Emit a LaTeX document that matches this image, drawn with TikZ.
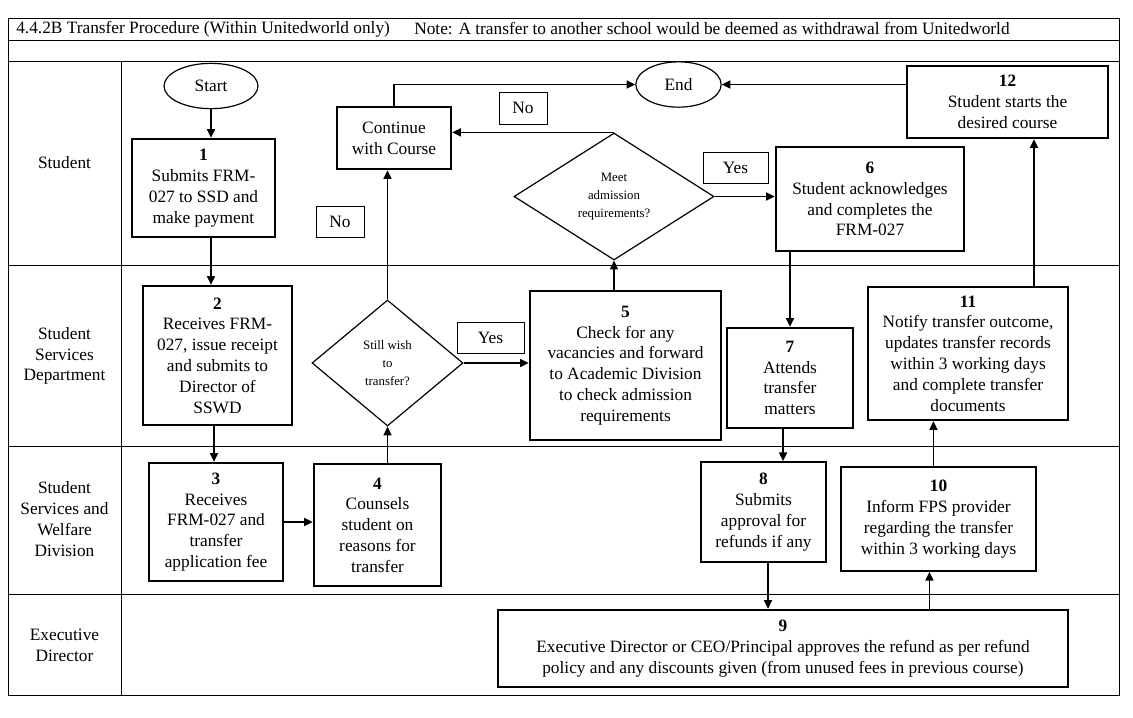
\documentclass[tikz,border=0pt]{standalone}
\usepackage{fontspec}
\setmainfont{Liberation Serif}
\usetikzlibrary{shapes.geometric,arrows.meta,calc}
\newcommand\bodyfont{\fontsize{13}{15.6}\selectfont}
\newcommand\smallfont{\fontsize{9.6}{13.5}\selectfont}
\newcommand\pbox[7]{%
 \pgfmathsetmacro\pcx{(#3+#5)/2}%
 \pgfmathsetmacro\pcy{(#4+#6)/2}%
 \pgfmathsetmacro\pw{(#5-#3)*0.75}%
 \pgfmathsetmacro\ph{(#6-#4)*0.75}%
 \node[#1, minimum width=\pw pt, minimum height=\ph pt] (#2) at (\pcx,\pcy) {#7};}
\tikzset{
 box/.style={draw, line width=1.8pt, align=center, inner sep=0pt, font=\bodyfont},
 mbox/.style={box, line width=1.4pt},
 lbl/.style={draw, line width=0.75pt, align=center, inner sep=0pt, font=\bodyfont},
 term/.style={draw, ellipse, line width=0.9pt, inner sep=0pt, font=\bodyfont},
 dec/.style={draw, diamond, aspect=1.6, line width=0.9pt, inner sep=0pt, align=center, font=\smallfont},
 arr/.style={line width=1.2pt, -{Triangle[length=6.5pt,width=6pt]}},
 lane/.style={line width=0.75pt},
 lanelabel/.style={align=center, font=\bodyfont, inner sep=0pt},
}
\begin{document}
\begin{tikzpicture}[x=0.75pt,y=-0.75pt]
\useasboundingbox (0,0) rectangle (1133,718);
% frame and lanes
\draw[lane] (8,18) rectangle (1119,695);
\draw[lane] (8,40) -- (1119,40);
\draw[lane] (8,61) -- (1119,61);
\draw[lane] (121,61) -- (121,695);
\draw[lane] (8,265) -- (1119,265);
\draw[lane] (8,446) -- (1119,446);
\draw[lane] (8,594) -- (1119,594);
\node[anchor=west, font=\bodyfont, inner sep=0pt] (title) at (16,29) {4.4.2B Transfer Procedure (Within Unitedworld only)};
\node[anchor=west, font=\bodyfont, inner sep=0pt] (note) at (414,29) {Note: A transfer to another school would be deemed as withdrawal from Unitedworld};
% lane labels
\node[lanelabel] (l1) at (64.5,163) {Student};
\node[lanelabel] (l2) at (64.5,356) {Student\\Services\\Department};
\node[lanelabel] (l3) at (64.5,519) {Student\\Services and\\Welfare\\Division};
\node[lanelabel] (l4) at (64.5,645) {Executive\\Director};
% terminals
\node[term, minimum width=70.5pt, minimum height=34pt] (start) at (211,86) {Start};
\node[term, minimum width=64pt, minimum height=34pt] (end) at (678.5,84.5) {End};
% boxes
\pbox{box}{b1}{132}{139}{275}{237}{\textbf{1}\\Submits FRM-\\027 to SSD and\\make payment}
\pbox{box}{b2}{143}{286}{292}{425}{\textbf{2}\\Receives FRM-\\027, issue receipt\\and submits to\\Director of\\SSWD}
\pbox{box}{b3}{149}{463}{283}{581}{\textbf{3}\\Receives\\FRM-027 and\\transfer\\application fee}
\pbox{box}{b4}{314}{464}{441}{586}{\textbf{4}\\Counsels\\student on\\reasons for\\transfer}
\pbox{box}{cont}{337}{107}{451}{169}{Continue\\with Course}
\pbox{lbl}{noA}{499}{92}{547}{124}{No}
\pbox{lbl}{noB}{316}{206}{364}{237}{No}
\pbox{lbl}{yesA}{703}{152}{768}{183}{Yes}
\pbox{lbl}{yesB}{457}{322}{524}{353}{Yes}
\pbox{box}{b6}{776}{147}{964}{251}{\textbf{6}\\Student acknowledges\\and completes the\\FRM-027}
\pbox{box}{b12}{907}{66}{1108}{138}{\textbf{12}\\Student starts the\\desired course}
\pbox{box}{b5}{530}{291}{721}{440}{\textbf{5}\\Check for any\\vacancies and forward\\to Academic Division\\to check admission\\requirements}
\pbox{box}{b7}{727}{328}{853}{428}{\textbf{7}\\Attends\\transfer\\matters}
\pbox{box}{b11}{868}{287}{1068}{420}{\textbf{11}\\Notify transfer outcome,\\updates transfer records\\within 3 working days\\and complete transfer\\documents}
\pbox{mbox}{b8}{701}{462}{826}{562}{\textbf{8}\\Submits\\approval for\\refunds if any}
\pbox{mbox}{b10}{841}{467}{1036}{571}{\textbf{10}\\Inform FPS provider\\regarding the transfer\\within 3 working days}
\pbox{box}{b9}{498}{610}{1068}{687}{\textbf{9}\\Executive Director or CEO/Principal approves the refund as per refund\\policy and any discounts given (from unused fees in previous course)}
% decisions
\node[dec, minimum width=150pt, minimum height=95.25pt] (d1) at (614,196.5) {Meet\\admission\\requirements?};
\node[dec, minimum width=113.25pt, minimum height=94.5pt] (d2) at (387.5,363) {Still wish\\to\\transfer?};
% connectors
\draw[arr] (start.south) -- (start.south |- b1.north);
\draw[arr] (start.south |- b1.south) -- (start.south |- b2.north);
\draw[arr] ([xshift=-2.6pt]b2.south) -- ([xshift=-2.6pt]b2.south |- b3.north);
\draw[arr] (b3.east) -- (b3.east -| b4.west);
\draw[arr] (d2.south |- b4.north) -- (d2.south);
\draw[arr] (d2.north) -- (d2.north |- cont.south);
\draw[arr] (d2.east) -- (d2.east -| b5.west);
\draw[arr] (d1.south |- b5.north) -- (d1.south);
\draw[arr] (d1.north) -- (d1.north -| cont.east);
\draw[arr] (cont.north) |- (end.west);
\draw[arr] (d1.east) -- (d1.east -| b6.west);
\draw[arr] (b7.north |- b6.south) -- (b7.north);
\draw[arr] ([xshift=-5.2pt]b7.south) -- ([xshift=-5.2pt]b7.south |- b8.north);
\draw[arr] ([xshift=3.4pt]b8.south) -- ([xshift=3.4pt]b8.south |- b9.north);
\draw[arr] ([xshift=-6.8pt]b10.south |- b9.north) -- ([xshift=-6.8pt]b10.south);
\draw[arr] ([xshift=-3.8pt]b10.north) -- ([xshift=-3.8pt]b10.north |- b11.south);
\draw[arr] ([xshift=49.5pt]b11.north) -- ([xshift=49.5pt]b11.north |- b12.south);
\draw[arr] (end.east -| b12.west) -- (end.east);
\end{tikzpicture}
\end{document}
